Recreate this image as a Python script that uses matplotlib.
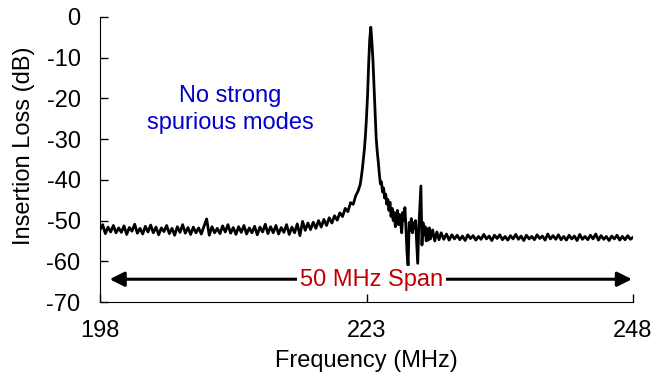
import numpy as np
import matplotlib
matplotlib.use("Agg")
import matplotlib.pyplot as plt

plt.rcParams['font.family'] = ['Liberation Sans', 'DejaVu Sans']
plt.rcParams['font.size'] = 17
plt.rcParams['axes.unicode_minus'] = False

# piso de ruido a la izquierda (MHz, dB)
frec_izq = [198.0, 198.25, 198.5, 198.75, 199.0, 199.25, 199.5, 199.75,
            200.0, 200.25, 200.5, 200.75, 201.0, 201.25, 201.5, 201.75,
            202.0, 202.25, 202.5, 202.75, 203.0, 203.25, 203.5, 203.75,
            204.0, 204.25, 204.5, 204.75, 205.0, 205.25, 205.5, 205.75,
            206.0, 206.25, 206.5, 206.75, 207.0, 207.25, 207.5, 207.75,
            208.0, 208.25, 208.5, 208.75, 209.0, 209.25, 209.5, 209.75,
            210.0, 210.25, 210.5, 210.75, 211.0, 211.25, 211.5, 211.75,
            212.0, 212.25, 212.5, 212.75, 213.0, 213.25, 213.5, 213.75,
            214.0, 214.25, 214.5, 214.75, 215.0, 215.25, 215.5, 215.75,
            216.0, 216.25, 216.5, 216.75, 217.0, 217.25, 217.5, 217.75,
            218.0, 218.25, 218.5, 218.75, 219.0, 219.25, 219.5, 219.75,
            220.0, 220.25, 220.5, 220.75, 221.0, 221.25, 221.5, 221.75]
il_izq = [-52.3, -51.0, -53.2, -51.6, -52.8, -51.2, -53.0, -51.8,
          -52.9, -51.3, -53.4, -51.7, -52.6, -50.9, -53.1, -51.9,
          -53.3, -51.4, -52.8, -51.1, -53.0, -51.6, -53.5, -51.8,
          -52.7, -51.2, -53.2, -51.9, -53.6, -51.5, -52.9, -51.0,
          -53.1, -51.7, -53.4, -51.6, -53.0, -51.8, -53.3, -51.4,
          -49.6, -53.6, -51.5, -53.0, -51.9, -53.2, -51.3, -52.8,
          -51.0, -53.1, -51.7, -53.4, -51.5, -52.9, -51.2, -53.3,
          -51.8, -53.0, -51.4, -53.5, -51.6, -52.8, -50.9, -53.2,
          -51.5, -53.0, -51.2, -53.3, -51.7, -52.9, -51.0, -53.4,
          -51.6, -53.0, -50.8, -53.7, -50.2, -52.4, -50.6, -52.2,
          -50.4, -51.9, -50.0, -51.6, -49.7, -51.2, -49.3, -50.6,
          -48.8, -49.9, -48.1, -49.0, -47.0, -47.8, -45.6, -46.0]

# resonancia y modos espurios
frec_pico = [222.0, 222.2, 222.4, 222.5, 222.6, 222.7, 222.8, 222.9,
             223.0, 223.1, 223.2, 223.3, 223.4, 223.5, 223.6, 223.7,
             223.8, 223.9, 224.0, 224.1, 224.2, 224.3, 224.4, 224.5,
             224.6, 224.7, 224.8, 224.9, 225.0, 225.1, 225.2, 225.3,
             225.4, 225.5, 225.6, 225.7, 225.8, 225.9, 226.0, 226.1,
             226.2, 226.3, 226.4, 226.5, 226.6, 226.7, 226.8, 226.9,
             227.0, 227.1, 227.2, 227.3, 227.4, 227.5, 227.6, 227.7,
             227.8, 227.9, 228.0, 228.1, 228.2, 228.3, 228.4, 228.5,
             228.6, 228.7, 228.8, 228.9, 229.0, 229.2, 229.4, 229.6,
             229.8, 230.0, 230.25, 230.5, 230.75, 231.0]
il_pico = [-43.8, -42.8, -41.2, -39.5, -37.5, -35.0, -32.5, -29.0,
           -24.5, -19.0, -11.5, -5.5, -2.5, -6.0, -10.5, -17.0,
           -23.5, -29.5, -33.0, -35.5, -38.5, -41.0, -40.5, -43.0,
           -42.0, -44.5, -43.5, -46.0, -44.8, -47.5, -45.5, -49.0,
           -47.0, -50.0, -48.0, -51.5, -49.0, -47.5, -51.0, -48.5,
           -50.5, -53.0, -48.0, -50.0, -46.8, -52.0, -58.0, -61.0,
           -50.5, -52.5, -49.5, -53.0, -50.5, -52.0, -50.0, -55.0,
           -60.5, -52.0, -47.0, -41.5, -56.0, -50.5, -53.5, -51.5,
           -55.0, -52.0, -54.8, -51.8, -54.5, -52.3, -55.0, -52.8,
           -54.7, -53.0, -54.6, -53.3, -54.8, -53.5]

# piso de ruido a la derecha
frec_der = [231.25, 231.5, 231.75, 232.0, 232.25, 232.5, 232.75, 233.0,
            233.25, 233.5, 233.75, 234.0, 234.25, 234.5, 234.75, 235.0,
            235.25, 235.5, 235.75, 236.0, 236.25, 236.5, 236.75, 237.0,
            237.25, 237.5, 237.75, 238.0, 238.25, 238.5, 238.75, 239.0,
            239.25, 239.5, 239.75, 240.0, 240.25, 240.5, 240.75, 241.0,
            241.25, 241.5, 241.75, 242.0, 242.25, 242.5, 242.75, 243.0,
            243.25, 243.5, 243.75, 244.0, 244.25, 244.5, 244.75, 245.0,
            245.25, 245.5, 245.75, 246.0, 246.25, 246.5, 246.75, 247.0,
            247.25, 247.5, 247.75, 248.0]
il_der = [-54.5, -53.6, -54.7, -53.8, -54.9, -53.5, -54.4, -53.7,
          -54.8, -53.9, -54.6, -53.4, -54.5, -53.8, -54.9, -53.6,
          -54.4, -53.5, -54.7, -53.9, -54.8, -53.7, -54.5, -53.4,
          -54.6, -53.8, -54.9, -53.6, -54.5, -53.9, -54.7, -53.5,
          -54.4, -53.8, -54.8, -53.3, -54.5, -53.7, -54.6, -53.5,
          -54.7, -53.9, -54.8, -53.6, -54.5, -53.8, -54.9, -53.4,
          -54.6, -53.9, -54.7, -53.6, -54.5, -53.3, -54.8, -53.7,
          -54.6, -53.9, -54.9, -53.8, -54.5, -53.6, -54.8, -53.9,
          -54.7, -53.7, -54.6, -54.1]

xticks = [198, 223, 248]
yticks = [0, -10, -20, -30, -40, -50, -60, -70]

frec = np.array(frec_izq + frec_pico + frec_der)
il = np.array(il_izq + il_pico + il_der)

fig = plt.figure(figsize=(6.66, 3.81), dpi=100)
ax = fig.add_axes([0.1502, 0.2073, 0.8003, 0.7481])
ax.plot(frec, il, color='black', lw=2.0)

ax.set_xlim(198, 248)
ax.set_ylim(-70, 0)
ax.set_xticks(xticks)
ax.set_yticks(yticks)
ax.spines['top'].set_visible(False)
ax.spines['right'].set_visible(False)
ax.tick_params(direction='in', length=6, width=1, color='black')
ax.tick_params(axis='x', pad=13)
ax.tick_params(axis='y', pad=14)
ax.set_xlabel("Frequency (MHz)", labelpad=6)
ax.set_ylabel("Insertion Loss (dB)")
ax.yaxis.set_label_coords(-0.122, 0.55)

# flecha del span
ax.annotate("", xy=(198.9, -64.4), xytext=(247.9, -64.4),
            arrowprops=dict(arrowstyle='<|-|>', color='black', lw=2.2,
                            mutation_scale=22, shrinkA=0, shrinkB=0))
ax.text(223.5, -64.6, "50 MHz Span", color='#C00000', ha='center', va='center',
        bbox=dict(facecolor='white', edgecolor='none', pad=2))
ax.text(210.2, -22.8, "No strong\nspurious modes", color='#0000CC',
        ha='center', va='center', linespacing=1.3)

fig.savefig("out.png", dpi=100)
